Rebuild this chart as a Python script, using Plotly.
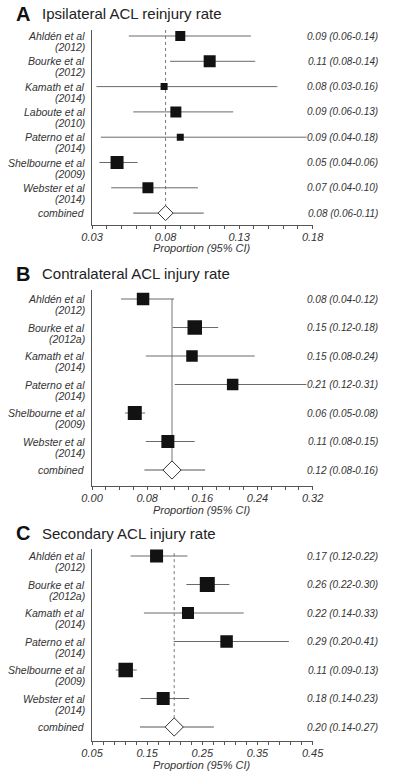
import plotly.graph_objects as go

# ---------------- DATA ----------------
names_a = ["Ahldén et al", "Bourke et al", "Kamath et al", "Laboute et al",
           "Paterno et al", "Shelbourne et al", "Webster et al"]
years_a = ["(2012)", "(2012)", "(2014)", "(2010)", "(2014)", "(2009)", "(2014)"]
est_a = [0.090, 0.110, 0.079, 0.087, 0.090, 0.047, 0.068]
lo_a = [0.055, 0.083, 0.033, 0.058, 0.036, 0.035, 0.043]
hi_a = [0.138, 0.141, 0.156, 0.126, 0.176, 0.061, 0.102]
comb_a = [0.080, 0.058, 0.106]
text_a = ["0.09 (0.06-0.14)", "0.11 (0.08-0.14)", "0.08 (0.03-0.16)", "0.09 (0.06-0.13)",
          "0.09 (0.04-0.18)", "0.05 (0.04-0.06)", "0.07 (0.04-0.10)"]
comb_text_a = "0.08 (0.06-0.11)"

names_b = ["Ahldén et al", "Bourke et al", "Kamath et al", "Paterno et al",
           "Shelbourne et al", "Webster et al"]
years_b = ["(2012)", "(2012a)", "(2014)", "(2014)", "(2009)", "(2014)"]
est_b = [0.074, 0.149, 0.145, 0.204, 0.062, 0.110]
lo_b = [0.042, 0.117, 0.078, 0.120, 0.048, 0.078]
hi_b = [0.119, 0.183, 0.236, 0.311, 0.077, 0.149]
comb_b = [0.116, 0.076, 0.164]
text_b = ["0.08 (0.04-0.12)", "0.15 (0.12-0.18)", "0.15 (0.08-0.24)", "0.21 (0.12-0.31)",
          "0.06 (0.05-0.08)", "0.11 (0.08-0.15)"]
comb_text_b = "0.12 (0.08-0.16)"

names_c = names_b
years_c = years_b
est_c = [0.167, 0.259, 0.224, 0.294, 0.111, 0.179]
lo_c = [0.120, 0.221, 0.144, 0.198, 0.093, 0.138]
hi_c = [0.223, 0.299, 0.325, 0.407, 0.131, 0.226]
comb_c = [0.199, 0.137, 0.271]
text_c = ["0.17 (0.12-0.22)", "0.26 (0.22-0.30)", "0.22 (0.14-0.33)", "0.29 (0.20-0.41)",
          "0.11 (0.09-0.13)", "0.18 (0.14-0.23)"]
comb_text_c = "0.20 (0.14-0.27)"

titles = ["Ipsilateral ACL reinjury rate", "Contralateral ACL injury rate",
          "Secondary ACL injury rate"]
letters = ["A", "B", "C"]
axis_title = "Proportion (95% CI)"

# ---------------- STYLE / LAYOUT ----------------
W, H = 400, 772
FONT = "Liberation Sans, Arial, Helvetica, sans-serif"
panels = [
    dict(names=names_a, years=years_a, est=est_a, lo=lo_a, hi=hi_a, comb=comb_a,
         text=text_a, ctext=comb_text_a,
         xrange=[0.03, 0.18], tick0=0.03, dtick=0.05, mdtick=0.01,
         top=30, bottom=225, row0=36, step=25.3, title_y=14, tick_ax_y=248,
         sizes=[10, 12, 7, 11, 7, 13, 11], dsize=11.5, refdash="dot", refstart=-0.24),
    dict(names=names_b, years=years_b, est=est_b, lo=lo_b, hi=hi_b, comb=comb_b,
         text=text_b, ctext=comb_text_b,
         xrange=[0.0, 0.32], tick0=0.0, dtick=0.08, mdtick=0.02,
         top=290, bottom=486, row0=299, step=28.5, title_y=274, tick_ax_y=510,
         sizes=[12.5, 14.5, 11.5, 11.5, 14, 13], dsize=14, refdash="solid", refstart=0.0),
    dict(names=names_c, years=years_c, est=est_c, lo=lo_c, hi=hi_c, comb=comb_c,
         text=text_c, ctext=comb_text_c,
         xrange=[0.05, 0.45], tick0=0.05, dtick=0.10, mdtick=0.02,
         top=549, bottom=741, row0=556, step=28.5, title_y=533, tick_ax_y=765,
         sizes=[13, 15, 12, 12.5, 14.5, 13], dsize=14, refdash="dot", refstart=-0.1),
]

fig = go.Figure()
annotations = []
layout_axes = {}
XL, XR = 86, 320

for k, p in enumerate(panels):
    sfx = "" if k == 0 else str(k + 1)
    xa, ya = "x" + sfx, "y" + sfx
    n = len(p["names"])
    rows = list(range(n))
    crow = n
    ylo = (p["top"] - p["row0"]) / p["step"]
    yhi = (p["bottom"] - p["row0"]) / p["step"]

    # reference line at combined estimate
    fig.add_trace(go.Scatter(
        x=[p["comb"][0], p["comb"][0]], y=[p["refstart"], crow],
        mode="lines", line=dict(color="#777777", width=1, dash=p["refdash"]),
        xaxis=xa, yaxis=ya, hoverinfo="skip", showlegend=False))

    # studies
    fig.add_trace(go.Scatter(
        x=p["est"], y=rows, mode="markers",
        marker=dict(symbol="square", size=p["sizes"], color="#121212", opacity=1,
                    line=dict(width=0)),
        error_x=dict(type="data", symmetric=False,
                     array=[h - e for h, e in zip(p["hi"], p["est"])],
                     arrayminus=[e - l for e, l in zip(p["est"], p["lo"])],
                     color="#6a6a6a", thickness=1, width=0),
        xaxis=xa, yaxis=ya, showlegend=False))

    # combined
    ce, cl, ch = p["comb"]
    fig.add_trace(go.Scatter(
        x=[ce], y=[crow], mode="markers",
        marker=dict(symbol="diamond", size=p["dsize"], color="white", opacity=1,
                    line=dict(color="#333333", width=1)),
        error_x=dict(type="data", symmetric=False, array=[ch - ce], arrayminus=[ce - cl],
                     color="#555555", thickness=1, width=0),
        xaxis=xa, yaxis=ya, showlegend=False))

    ydom = [1 - p["bottom"] / H, 1 - p["top"] / H]
    layout_axes["xaxis" + sfx] = dict(
        domain=[XL / W, XR / W], range=p["xrange"], anchor=ya,
        tick0=p["tick0"], dtick=p["dtick"], tickformat=".2f",
        ticks="outside", ticklen=3, tickcolor="#555555", tickwidth=1,
        ticklabelstandoff=-1,
        showline=True, linecolor="#555555", linewidth=1,
        showgrid=False, zeroline=False,
        tickfont=dict(family=FONT, size=11, color="#333333", style="italic"),
        minor=dict(ticks="outside", ticklen=3, tick0=p["tick0"], dtick=p["mdtick"],
                   tickcolor="#555555", tickwidth=1, showgrid=False),
        fixedrange=True)
    layout_axes["yaxis" + sfx] = dict(
        domain=ydom, range=[yhi, ylo], anchor=xa,
        showline=True, linecolor="#555555", linewidth=1,
        showticklabels=False, ticks="", showgrid=False, zeroline=False,
        fixedrange=True)

    lab_font = dict(family=FONT, size=10.5, color="#333333", style="italic")
    val_font = dict(family=FONT, size=10, color="#333333", style="italic")
    # left labels and right value texts
    for i in rows:
        annotations.append(dict(xref="paper", yref=ya, x=81 / W, y=i, xanchor="right",
                                yanchor="middle", text=p["names"][i], showarrow=False,
                                font=lab_font))
        annotations.append(dict(xref="paper", yref=ya, x=81 / W, y=i, yshift=-11,
                                xanchor="right", yanchor="middle", text=p["years"][i],
                                showarrow=False, font=lab_font))
        annotations.append(dict(xref="paper", yref=ya, x=391 / W, y=i, xanchor="right",
                                yanchor="middle", text=p["text"][i], showarrow=False,
                                font=val_font))
    annotations.append(dict(xref="paper", yref=ya, x=81 / W, y=crow, xanchor="right",
                            yanchor="middle", text="combined", showarrow=False,
                            font=lab_font))
    annotations.append(dict(xref="paper", yref=ya, x=391 / W, y=crow, xanchor="right",
                            yanchor="middle", text=p["ctext"], showarrow=False,
                            font=val_font))

    # panel titles
    annotations.append(dict(xref="paper", yref="paper", x=3 / W, y=1 - p["title_y"] / H,
                            xanchor="left", yanchor="middle", text="<b>%s</b>" % letters[k],
                            showarrow=False, font=dict(family=FONT, size=20, color="#111111")))
    annotations.append(dict(xref="paper", yref="paper", x=31 / W, y=1 - p["title_y"] / H,
                            xanchor="left", yanchor="middle", text=titles[k],
                            showarrow=False, font=dict(family=FONT, size=15, color="#222222")))
    # axis title
    annotations.append(dict(xref="paper", yref="paper", x=(XL + XR) / 2 / W,
                            y=1 - p["tick_ax_y"] / H, xanchor="center", yanchor="middle",
                            text=axis_title, showarrow=False,
                            font=dict(family=FONT, size=11, color="#333333", style="italic")))

fig.update_layout(
    width=W, height=H, autosize=False,
    margin=dict(l=0, r=0, t=0, b=0),
    paper_bgcolor="white", plot_bgcolor="white",
    showlegend=False, annotations=annotations,
    **layout_axes)

fig.write_html("out.html", config={"displayModeBar": False},
               post_script="document.body.style.margin='0';document.body.style.padding='0';"
                           "document.body.style.overflow='hidden';"
                           "document.documentElement.style.overflow='hidden';")
